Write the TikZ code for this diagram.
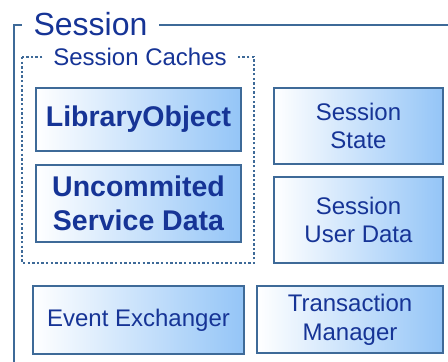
\documentclass[tikz,border=0pt]{standalone}
\usepackage{fontspec}
\setmainfont{Liberation Sans}
\definecolor{edge}{RGB}{62,106,152}
\definecolor{fillblue}{RGB}{148,197,247}
\definecolor{ink}{RGB}{22,52,150}
\begin{document}
\begin{tikzpicture}[x=1pt,y=-1pt,
  part/.style={draw=edge, line width=1.9pt, left color=white, right color=fillblue,
    text=ink, align=center, inner sep=0pt},
  bigpart/.style={part, font=\fontsize{28.5}{34}\selectfont\bfseries},
  smallpart/.style={part, font=\fontsize{24}{28.8}\selectfont},
  frameline/.style={draw=edge, line width=2.8pt},
  cacheline/.style={draw=edge, line width=2.5pt, dash pattern=on 2.4pt off 2.2pt, line cap=butt}
]
\useasboundingbox (0,0) rectangle (448,362);

% outer "Session" frame, open at the right and bottom
\coordinate (fbl) at (14,362);
\coordinate (ftl) at (14,25);
\coordinate (ftr) at (448,25);
\draw[frameline] (fbl) -- (ftl) -- (ftr);
\node[fill=white, text=ink, inner xsep=11.5pt, inner ysep=2pt, anchor=base,
  font=\fontsize{32}{38}\selectfont] (title) at (90.5,35) {Session};

% dotted group of session caches
\coordinate (ctl) at (22,57);
\coordinate (cbr) at (254,263);
\draw[cacheline] (ctl) rectangle (cbr);
\node[fill=white, text=ink, inner xsep=9pt, inner ysep=2pt, anchor=base,
  font=\fontsize{24}{28}\selectfont] (caches) at (140,65) {Session Caches};

% cached parts
\node[bigpart, minimum width=205pt, minimum height=63pt] (lib) at (138.5,119.5) {LibraryObject};
\node[bigpart, minimum width=205pt, minimum height=77pt] (uncommited) at (138.5,203.5) {Uncommited\\Service Data};

% session-wide parts
\node[smallpart, minimum width=169pt, minimum height=76pt] (state) at (358.5,126) {Session\\State};
\node[smallpart, minimum width=169pt, minimum height=86pt] (userdata) at (358.5,220) {Session\\User Data};
\node[smallpart, minimum width=211pt, minimum height=68pt] (events) at (138.5,320) {Event Exchanger};
\node[smallpart, minimum width=186pt, minimum height=67pt] (transactions) at (350,319.5) {Transaction\\Manager};
\end{tikzpicture}
\end{document}
